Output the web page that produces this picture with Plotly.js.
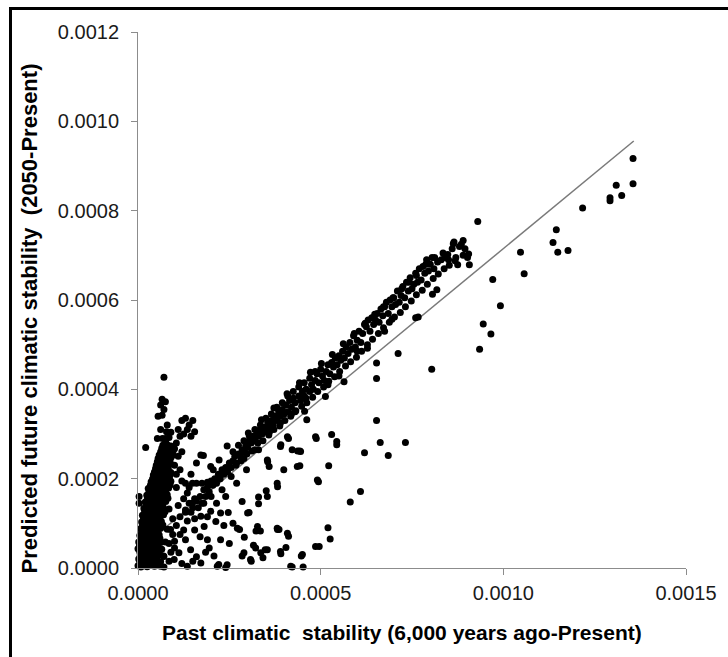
<!DOCTYPE html>
<html>
<head>
<meta charset="utf-8">
<script src="https://cdn.plot.ly/plotly-3.0.1.min.js"></script>
<style>
  html, body { margin: 0; padding: 0; background: #fff; overflow: hidden; }
  #wrap { position: relative; width: 728px; height: 657px; }
  #chart { position: absolute; left: 0; top: 0; width: 728px; height: 657px; }
  #frame { position: absolute; left: 9px; top: 7px; width: 740px; height: 670px;
           border-left: 3px solid #000; border-top: 3px solid #000; pointer-events: none; }
</style>
</head>
<body>
<div id="wrap"><div id="chart"></div><div id="frame"></div></div>
<script>
// Values in units of 1e-4 (past, future)
const leftCluster = [
  [0.00,0.05],[0.08,0.02],[0.15,0.06],[0.25,0.03],[0.35,0.08],[0.45,0.04],[0.55,0.07],
  [0.02,0.20],[0.10,0.22],[0.20,0.18],[0.30,0.21],[0.42,0.19],[0.52,0.23],
  [0.05,0.35],[0.14,0.36],[0.24,0.33],[0.34,0.37],[0.45,0.35],[0.58,0.34],
  [0.04,0.50],[0.12,0.52],[0.22,0.49],[0.32,0.51],[0.44,0.50],[0.55,0.53],
  [0.08,0.65],[0.17,0.66],[0.27,0.63],[0.38,0.67],[0.50,0.64],[0.60,0.66],
  [0.10,0.80],[0.20,0.81],[0.30,0.78],[0.42,0.82],[0.55,0.79],
  [0.12,0.95],[0.22,0.96],[0.33,0.93],[0.45,0.97],[0.58,0.94],[0.68,0.96],
  [0.15,1.10],[0.25,1.11],[0.36,1.08],[0.48,1.12],[0.60,1.09],
  [0.18,1.25],[0.28,1.26],[0.40,1.23],[0.52,1.27],[0.64,1.24],[0.74,1.26],
  [0.22,1.40],[0.32,1.41],[0.44,1.38],[0.56,1.42],[0.68,1.39],
  [0.26,1.55],[0.36,1.56],[0.48,1.53],[0.60,1.57],[0.72,1.54],[0.82,1.56],
  [0.30,1.70],[0.40,1.71],[0.52,1.68],[0.64,1.72],[0.76,1.69],
  [0.34,1.85],[0.45,1.86],[0.56,1.83],[0.68,1.87],[0.80,1.84],[0.88,1.86],
  [0.40,2.00],[0.50,2.01],[0.62,1.98],[0.74,2.02],[0.86,1.99],
  [0.45,2.15],[0.56,2.16],[0.68,2.13],[0.80,2.17],[0.90,2.14],
  [0.50,2.30],[0.62,2.31],[0.74,2.28],[0.86,2.32],
  [0.55,2.45],[0.67,2.46],[0.78,2.43],[0.90,2.47],
  [0.62,2.60],[0.74,2.61],[0.86,2.58],[0.96,2.62],
  [0.68,2.75],[0.80,2.76],[0.90,2.73],
  [0.75,2.90],[0.85,2.92],[0.78,3.05],[0.90,3.04],
  [0.03,1.60],[0.03,1.45],[0.21,2.70],[0.71,4.27],[0.66,3.78],[0.75,3.72],
  [0.62,3.65],[0.71,3.55],[0.66,3.42],[0.55,3.40],[0.62,3.10],[0.53,2.90],
  [0.67,2.90],[0.76,2.85],[0.80,3.20]
];
const leftFill = [
  [0.05,0.12],[0.20,0.12],[0.30,0.13],[0.40,0.11],[0.50,0.12],[0.62,0.14],
  [0.06,0.28],[0.16,0.28],[0.26,0.29],[0.37,0.27],[0.48,0.28],[0.60,0.29],[0.70,0.27],
  [0.00,0.43],[0.09,0.43],[0.19,0.44],[0.29,0.42],[0.40,0.43],[0.50,0.44],[0.65,0.42],
  [0.02,0.58],[0.08,0.58],[0.17,0.59],[0.27,0.57],[0.38,0.58],[0.50,0.59],[0.62,0.57],[0.75,0.58],
  [0.05,0.73],[0.14,0.73],[0.24,0.74],[0.35,0.72],[0.47,0.73],[0.58,0.74],
  [0.07,0.88],[0.16,0.88],[0.26,0.89],[0.38,0.87],[0.50,0.88],[0.62,0.89],[0.80,0.87],
  [0.10,1.03],[0.19,1.03],[0.29,1.04],[0.41,1.02],[0.53,1.03],[0.64,1.04],
  [0.12,1.18],[0.22,1.18],[0.33,1.19],[0.45,1.17],[0.57,1.18],[0.70,1.19],
  [0.16,1.33],[0.25,1.33],[0.36,1.34],[0.48,1.32],[0.60,1.33],[0.70,1.34],[0.85,1.32],
  [0.20,1.48],[0.28,1.48],[0.40,1.49],[0.52,1.47],[0.64,1.48],[0.76,1.49],
  [0.24,1.63],[0.33,1.63],[0.44,1.64],[0.56,1.62],[0.68,1.63],[0.80,1.64],
  [0.28,1.78],[0.37,1.78],[0.48,1.79],[0.60,1.77],[0.72,1.78],[0.84,1.79],
  [0.36,1.93],[0.42,1.93],[0.52,1.94],[0.64,1.92],[0.76,1.93],[0.90,1.94],
  [0.42,2.08],[0.53,2.08],[0.65,2.09],[0.77,2.07],[0.88,2.08],
  [0.48,2.23],[0.59,2.23],[0.71,2.24],[0.83,2.22],
  [0.53,2.38],[0.64,2.38],[0.76,2.39],[0.88,2.37],
  [0.58,2.53],[0.70,2.53],[0.82,2.54],[0.94,2.52],
  [0.65,2.68],[0.77,2.68],[0.88,2.69],[1.00,2.67]
];
const nearCluster = [
  [1.10,3.10],[1.20,3.30],[1.30,3.35],[1.40,3.20],[1.50,3.30],[1.55,3.05],
  [1.25,3.00],[1.35,3.10],[1.45,2.95],[1.15,2.95],[1.05,2.80],
  [1.00,2.30],[1.10,2.50],[1.05,2.10],[1.20,2.60],[1.15,2.20],[0.95,2.55],
  [1.72,2.53],[1.99,2.27],[2.22,2.42],[2.44,2.73],[1.79,2.52],[2.06,2.20],
  [1.49,1.90],[1.35,1.68],[1.49,1.45],[1.72,1.16],[1.99,1.27],[2.26,1.23],
  [2.13,1.04],[0.89,0.86],[1.30,0.63],[1.12,0.34],[0.71,0.26],[1.44,0.41],
  [1.81,0.93],[1.90,0.63],[2.26,0.63],[1.25,1.55],[1.40,1.80],[1.60,1.90],
  [1.75,1.90],[1.90,1.92],[1.30,1.25],[1.55,1.10],[1.70,0.70],[1.95,0.45],
  [0.62,0.04],[0.71,0.02],[0.99,0.19],[1.35,0.04],[1.72,0.11],[2.17,0.04],
  [2.44,0.07],[2.40,0.01],[2.21,0.08],[2.08,0.27],[0.85,0.15],[1.00,0.45],
  [1.20,0.10],[1.60,0.25],[0.95,1.10],[1.10,1.40],[1.05,1.80],
  [0.85,0.55],[0.95,0.75],[1.05,0.95],[1.15,1.15],[1.25,0.85],[1.35,1.05],
  [1.45,1.25],[1.55,0.85],[1.65,1.35],[1.80,1.45],[1.90,1.15],[2.00,1.60],
  [2.15,1.45],[2.30,1.75],[2.35,0.95],[2.50,0.55],[1.85,0.35],[1.50,0.15],
  [0.90,0.35],[1.00,0.60],[1.15,0.75],[1.30,1.90],[1.45,2.10],[1.60,2.35],[1.20,1.95]
];
const mainBand = [
  [1.30,1.30],[1.40,1.45],[1.50,1.35],[1.55,1.55],[1.60,1.50],[1.70,1.60],[1.75,1.45],
  [1.80,1.75],[1.85,1.60],[1.90,1.80],[1.95,1.70],[2.00,1.95],[2.05,1.85],[2.10,2.00],
  [2.15,1.90],[2.20,2.10],[2.25,2.00],[2.30,2.20],[2.35,2.10],[2.40,2.25],[2.45,2.15],
  [2.50,2.35],[2.55,2.25],[2.60,2.40],[2.65,2.50],[2.70,2.35],[2.75,2.55],[2.80,2.50],
  [2.85,2.65],[2.90,2.60],[2.95,2.75],[3.00,2.70],[3.05,2.85],[3.10,2.80],[3.15,2.95],
  [3.20,2.85],[3.25,3.00],[3.30,2.95],[3.35,3.10],[3.40,3.00],[3.45,3.15],[3.50,3.05],
  [3.55,3.25],[3.60,3.15],[3.65,3.30],[3.70,3.20],[3.75,3.40],[3.80,3.30],[3.85,3.50],
  [3.90,3.40],[3.95,3.55],[4.00,3.45],[4.05,3.65],[4.10,3.50],[4.15,3.75],[4.20,3.60],
  [4.25,3.80],[4.30,3.70],[4.40,3.85],[4.45,3.75],[4.50,3.95],[4.55,3.85],[4.60,4.00],
  [4.70,3.95],[4.75,4.10],[4.80,4.00],[4.85,4.20],[4.90,4.35],[4.95,4.15],[5.00,4.45],
  [5.05,4.30],[5.10,4.20],[5.15,4.40],[5.20,4.55],[5.25,4.35],[5.30,4.60],[5.35,4.50],
  [5.40,4.70],[5.45,4.55],[5.50,4.75],[5.55,4.65],[5.60,4.85],[5.65,4.70],[5.70,4.95],
  [5.75,4.80],[5.80,5.05],[5.85,4.90],[5.90,5.20],[5.95,4.95],[6.00,5.10],[6.05,5.30],
  [6.10,5.05],[6.15,5.25],[6.20,5.45],[6.25,5.40],[6.30,5.55],[6.35,5.30],[6.40,5.60],
  [6.45,5.45],[6.50,5.55],[6.55,5.70],[6.60,5.50],[6.65,5.80],[6.70,5.65],[6.75,5.85],
  [6.80,5.95],[6.85,5.70],[6.90,6.00],[6.95,5.85],[7.00,6.05],[7.05,5.90],[7.10,6.20],
  [7.15,5.95],[7.20,6.10],[7.25,6.30],[7.30,6.05],[7.35,6.40],[7.40,6.20],[7.45,6.50],
  [7.50,6.25],[7.55,6.35],[7.60,6.60],[7.65,6.40],[7.70,6.70],[7.75,6.45],[7.80,6.75],
  [7.85,6.60],[7.90,6.90],[7.95,6.65],[8.00,6.80],[8.05,6.95],[8.10,6.70],[8.20,6.85],
  [8.30,6.90],[8.40,6.95],[8.50,6.90],[8.60,7.15],[8.65,7.30],[8.70,6.95],[8.80,7.20],
  [8.85,7.25],[8.90,7.00],[9.05,7.03],[9.07,6.79],[8.63,7.26],[8.75,6.79],[8.06,6.13],
  [8.18,6.23],[9.30,7.76],
  [2.60,2.60],[2.75,2.75],[2.90,2.85],[3.05,2.95],[3.20,3.10],[3.35,3.20],[3.50,3.35],
  [3.65,3.45],[3.80,3.60],[3.95,3.70],[4.10,3.85],[4.25,3.95],[4.40,4.05],[4.55,4.15],
  [4.70,4.25],[4.85,4.40],[3.90,3.25],[4.20,3.45],[4.60,3.80],[3.60,3.05],[2.90,2.45],
  [3.20,2.65],[4.56,3.51],[4.62,3.32],[5.13,3.84],[5.64,4.17],[6.28,4.92],[6.95,5.57],
  [7.67,5.62],[6.00,4.85],[5.50,4.30],[7.60,5.60],[6.75,5.30],[5.20,4.10],[4.30,3.50],
  [3.30,2.65],[6.53,4.59]
];
const bandExtra = [
  [2.55,2.05],[2.68,2.30],[2.82,2.40],[2.98,2.55],[3.12,2.62],[3.28,2.80],[3.42,2.85],
  [3.58,2.98],[3.72,3.10],[3.88,3.18],[4.02,3.30],[4.18,3.40],[4.32,3.52],[4.48,3.62],
  [4.62,3.70],[4.78,3.82],[4.92,3.95],[5.08,4.05],[5.22,4.18],[5.38,4.28],[5.52,4.40],
  [5.68,4.52],[5.82,4.62],[5.98,4.72],[6.12,4.85],[6.28,5.00],[6.42,5.12],[6.58,5.25],
  [6.72,5.38],[6.88,5.50],[7.02,5.62],[7.18,5.72],[7.32,5.85],[7.48,5.98],[7.62,6.12],
  [7.78,6.22],[7.92,6.35],[8.08,6.48],[8.22,6.58],[8.38,6.70],[8.52,6.78],[8.68,6.88],
  [3.02,3.02],[3.38,3.32],[3.72,3.58],[4.08,3.90],[4.42,4.15],[4.72,4.38],[5.02,4.58],
  [5.32,4.78],[5.62,5.02],[5.92,5.25],[6.22,5.48],[6.48,5.68],[6.72,5.85],[6.98,6.05],
  [7.22,6.25],[7.42,6.40],[7.62,6.55],[7.88,6.80],[8.12,6.95],[8.35,7.05],[8.48,7.02],
  [8.90,7.33],[8.95,7.15],[9.02,6.95]
];
const scatterBelow = [
  [6.53,4.24],[6.53,3.30],[6.63,2.81],[6.85,2.52],[7.32,2.81],[6.20,2.58],[6.09,1.71],
  [5.81,1.48],[5.30,2.99],[5.44,2.83],[5.44,2.76],[5.22,2.29],[5.20,0.90],[5.26,0.65],
  [4.96,0.48],[4.94,1.93],[4.88,2.90],[4.37,2.62],[4.43,2.62],[4.43,2.29],[4.12,2.90],
  [3.99,2.20],[3.91,2.76],[3.82,1.82],[3.55,2.38],[3.51,1.73],[2.97,2.20],[2.85,1.49],
  [3.30,1.59],[3.30,1.44],[3.04,1.24],[2.47,1.24],[2.78,0.86],[3.23,0.83],[3.35,0.83],
  [3.82,0.86],[3.86,0.86],[4.12,0.71],[2.91,0.69],[3.16,0.51],[3.22,0.45],[3.48,0.41],
  [3.42,0.23],[3.10,0.15],[2.85,0.27],[3.91,0.32],[4.05,0.46],[4.22,0.02],[4.52,0.02],
  [4.47,0.27],[2.72,0.89],[3.00,1.23],[3.27,0.93],[3.81,0.89],[4.09,0.78],[3.54,1.60],
  [3.81,1.90],[4.36,2.27],[4.45,2.61],[4.22,2.65],[4.09,2.94],[3.90,2.72],[3.59,2.27],
  [3.54,2.42],[4.91,1.97],[4.86,2.94],[2.90,0.34],[3.08,0.19],[3.36,0.34],[3.54,0.41],
  [3.90,0.37],[4.18,0.04],[4.50,0.30],[4.86,0.48],[2.60,1.00],[2.40,1.60],[2.70,1.90]
];
const upperRight = [
  [13.55,9.17],[13.55,8.60],[13.09,8.57],[13.24,8.34],[12.92,8.29],[12.92,8.22],
  [12.17,8.06],[11.45,7.57],[11.36,7.29],[11.49,7.07],[11.77,7.11],[10.47,7.07],
  [10.57,6.59],[9.71,6.46],[9.92,5.87],[9.45,5.46],[9.66,5.24],[9.35,4.90],
  [8.04,4.45],[7.12,4.80]
];
// Fitted line end points (units of 1e-4)
const fitX = [0, 13.57];
const fitY = [0.40, 9.56];
// Axis ticks
const xTickVals = [0, 5, 10, 15];
const xTickText = ['0.0000', '0.0005', '0.0010', '0.0015'];
const yTickVals = [0, 2, 4, 6, 8, 10, 12];
const yTickText = ['0.0000', '0.0002', '0.0004', '0.0006', '0.0008', '0.0010', '0.0012'];
const xTitle = 'Past climatic  stability (6,000 years ago-Present)';
const yTitle = 'Predicted future climatic stability  (2050-Present)';

const allPts = leftCluster.concat(leftFill, nearCluster, mainBand, bandExtra, scatterBelow, upperRight);
const px = allPts.map(p => p[0]);
const py = allPts.map(p => p[1]);

const traces = [
  { x: fitX, y: fitY, type: 'scatter', mode: 'lines',
    line: { color: '#7a7a7a', width: 1.5 }, hoverinfo: 'skip', cliponaxis: false },
  { x: px, y: py, type: 'scatter', mode: 'markers',
    marker: { color: '#000', size: 7, line: { width: 0 } }, cliponaxis: false }
];

const FONT = 'Liberation Sans, Arial, sans-serif';
const axisCommon = {
  showgrid: false, zeroline: false, showline: true, linecolor: '#8c8c8c', linewidth: 1,
  ticks: 'outside', ticklen: 6, tickcolor: '#8c8c8c', tickwidth: 1,
  tickfont: { family: FONT, size: 20, color: '#1a1a1a' },
  tickmode: 'array', fixedrange: true
};

const layout = {
  width: 728, height: 657,
  margin: { l: 137.6, r: 42.3, t: 31.7, b: 88.7, pad: 0 },
  paper_bgcolor: '#fff', plot_bgcolor: '#fff',
  showlegend: false,
  xaxis: Object.assign({}, axisCommon, {
    range: [0, 15], tickvals: xTickVals, ticktext: xTickText, ticklabelstandoff: 1
  }),
  yaxis: Object.assign({}, axisCommon, {
    range: [0, 12], tickvals: yTickVals, ticktext: yTickText, ticklabelstandoff: 8
  }),
  annotations: [
    { text: xTitle, xref: 'paper', yref: 'paper', x: 0.482, y: -0.1206,
      xanchor: 'center', yanchor: 'middle', showarrow: false,
      font: { family: FONT, size: 21, color: '#000', weight: 'bold' } },
    { text: yTitle, xref: 'paper', yref: 'paper', x: -0.1963, y: 0.4665, textangle: -90,
      xanchor: 'center', yanchor: 'middle', showarrow: false,
      font: { family: FONT, size: 22, color: '#000', weight: 'bold' } }
  ]
};

Plotly.newPlot('chart', traces, layout, { staticPlot: true, displayModeBar: false });
</script>
</body>
</html>
